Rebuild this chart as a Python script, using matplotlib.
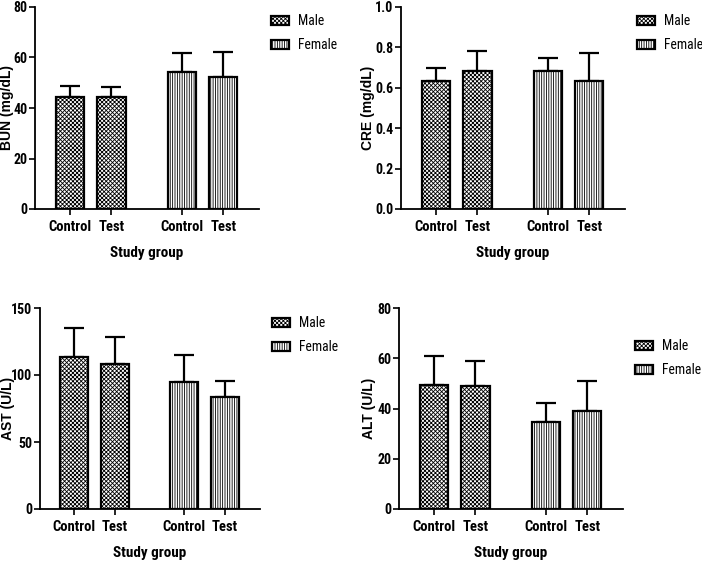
import matplotlib
matplotlib.use("Agg")
import matplotlib.pyplot as plt
from matplotlib.patches import Patch
from matplotlib import font_manager as fm
import numpy as np

# data
groups = ["Control", "Test", "Control", "Test"]
sexes = ["Male", "Male", "Female", "Female"]

bun_mean = [44.4, 44.2, 54.1, 52.4]
bun_sd = [4.5, 4.3, 7.8, 9.9]
cre_mean = [0.635, 0.684, 0.684, 0.635]
cre_sd = [0.065, 0.096, 0.066, 0.139]
ast_mean = [113.4, 108.0, 94.8, 83.8]
ast_sd = [21.7, 20.6, 19.9, 12.0]
alt_mean = [49.5, 48.8, 34.6, 38.9]
alt_sd = [11.5, 10.2, 7.7, 11.9]

W, H = 702, 565
plt.rcParams['font.family'] = ['Liberation Sans', 'DejaVu Sans']
plt.rcParams['hatch.linewidth'] = 0.6

# narrow faces, best first (the reference uses Arial Narrow)
pref_bold = ["liberationsansnarrow-bold.", "arialnarrow-bold", "arialnb",
             "robotocondensed-bold.", "notosans-condensedbold.",
             "opensans-condensedbold", "dejavusanscondensed-bold."]
pref_reg = ["liberationsansnarrow-regular.", "arialnarrow.", "arialn.",
            "robotocondensed-regular.", "notosans-condensed.",
            "opensans-condensed", "dejavusanscondensed."]


def find_font(prefs):
    files = [f.fname for f in fm.fontManager.ttflist]
    for p in prefs:
        for fn in files:
            if p in fn.lower().replace(" ", ""):
                return fn
    return None


nb = find_font(pref_bold)
nr = find_font(pref_reg)


def fp(size, bold=True):
    f = nb if bold else nr
    if f:
        return fm.FontProperties(fname=f, size=size)
    return fm.FontProperties(family="Liberation Sans", size=size * 0.86,
                             weight="bold" if bold else "normal")


ylab_font = fm.FontProperties(family="Liberation Sans", weight="bold", size=10)

fig = plt.figure(figsize=(W / 100, H / 100), dpi=100)

xpos = [0, 1, 2.69, 3.69]
hatches = {"Male": "xxxxxxxx", "Female": "|||||||"}


def px_axes(l, r, t, b):
    return fig.add_axes([l / W, 1 - b / H, (r - l) / W, (b - t) / H])


def panel(box, means, sds, ylim, yticks, ylabel, fmt, leg_top, ylab_x):
    l, r, t, b = box
    ax = px_axes(*box)
    for x, m, s in zip(xpos, means, sexes):
        ax.bar(x, m, width=0.68, color="white", edgecolor="black",
               linewidth=1.6, hatch=hatches[s], zorder=2)
    ax.errorbar(xpos, means, yerr=[np.zeros(4), sds], fmt="none",
                ecolor="black", elinewidth=1.6, capsize=7, capthick=1.6, zorder=1)
    ax.set_xlim(-0.84, 4.55)
    ax.set_ylim(*ylim)
    ax.set_yticks(yticks)
    ax.set_yticklabels([fmt.format(v) for v in yticks])
    for lbl in ax.get_yticklabels():
        lbl.set_fontproperties(fp(10))
    ax.set_xticks(xpos)
    ax.set_xticklabels(groups)
    for lbl in ax.get_xticklabels():
        lbl.set_fontproperties(fp(10.5))
    for sp in ["top", "right"]:
        ax.spines[sp].set_visible(False)
    for sp in ["left", "bottom"]:
        ax.spines[sp].set_linewidth(1.3)
    ax.tick_params(axis="y", length=4, width=1.2, pad=1.5)
    ax.tick_params(axis="x", length=4, width=1.2, pad=4)
    ax.set_ylabel(ylabel)
    ax.yaxis.label.set_fontproperties(ylab_font)
    ax.yaxis.label.set_verticalalignment("center")
    ax.yaxis.set_label_coords((ylab_x - l) / (r - l), 0.5)
    ax.set_xlabel("Study group")
    ax.xaxis.label.set_fontproperties(fp(11))
    ax.xaxis.label.set_verticalalignment("center")
    ax.xaxis.set_label_coords(0.5, -44 / (b - t))
    handles = [Patch(facecolor="white", edgecolor="black", linewidth=1.6,
                     hatch=hatches["Male"], label="Male"),
               Patch(facecolor="white", edgecolor="black", linewidth=1.6,
                     hatch=hatches["Female"], label="Female")]
    ax.legend(handles=handles, loc="upper left",
              bbox_to_anchor=((r + 12) / W, 1 - leg_top / H),
              bbox_transform=fig.transFigure, frameon=False,
              borderpad=0, borderaxespad=0, handlelength=1.35,
              handleheight=0.65, handletextpad=0.6, labelspacing=0.75,
              prop=fp(9.8, bold=False))
    return ax


panel((35, 259, 7, 209), bun_mean, bun_sd, (0, 80), [0, 20, 40, 60, 80],
      "BUN (mg/dL)", "{:.0f}", 14, 7)
panel((401, 625, 7, 209), cre_mean, cre_sd, (0, 1.0),
      [0.0, 0.2, 0.4, 0.6, 0.8, 1.0], "CRE (mg/dL)", "{:.1f}", 14, 368)
panel((40, 260, 308, 509), ast_mean, ast_sd, (0, 150), [0, 50, 100, 150],
      "AST (U/L)", "{:.0f}", 316, 8)
panel((399, 623, 308, 509), alt_mean, alt_sd, (0, 80), [0, 20, 40, 60, 80],
      "ALT (U/L)", "{:.0f}", 339, 369)

fig.savefig("out.png", dpi=100)
